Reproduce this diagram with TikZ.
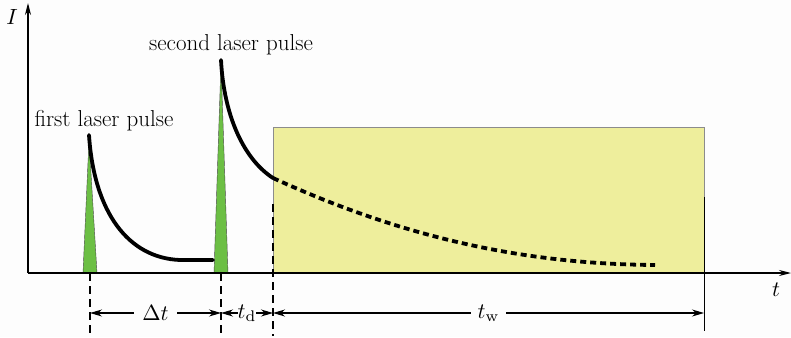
\documentclass[tikz,border=0pt]{standalone}
\usepackage{fontspec}
\usetikzlibrary{arrows.meta}
\definecolor{pulsegreen}{HTML}{6CBF44}
\definecolor{winyellow}{HTML}{EEEE9C}
\definecolor{bggray}{HTML}{FDFDFD}
\tikzset{
  axisline/.style={line width=1.4pt,-{Stealth[length=12pt,width=6pt]}},
  pulsefill/.style={fill=pulsegreen,draw=black!70,line width=0.4pt},
  decayline/.style={line width=3.8pt,line cap=round},
  decaydash/.style={line width=3.8pt,dash pattern=on 6pt off 4pt},
  guideline/.style={line width=1.3pt,dash pattern=on 8pt off 5pt},
  dimarrow/.style={line width=1.1pt,{Stealth[length=12pt,width=7pt]}-{Stealth[length=12pt,width=7pt]}},
  lbl/.style={font=\fontsize{23}{26}\selectfont,inner sep=1pt},
  mathlbl/.style={scale=2.2,inner sep=0.5pt},
  dimlbl/.style={scale=2.2,fill=bggray,inner sep=1pt},
}
\begin{document}
\begin{tikzpicture}[x=1pt,y=-1pt]
\useasboundingbox[fill=bggray] (0,0) rectangle (791,337);
% coordinates
\coordinate (O) at (28,273);
\coordinate (Ytop) at (28,3);
\coordinate (Xend) at (791,273);
% window
\filldraw[fill=winyellow,draw=black!45,line width=0.8pt] (273,127) rectangle (704,273);
% pulses
\filldraw[pulsefill] (83,273) -- (89,140) -- (97,273) -- cycle;
\filldraw[pulsefill] (214,273) -- (221,62) -- (228,273) -- cycle;
% axes
\draw[axisline] (O) -- (Ytop);
\draw[axisline] (O) -- (Xend);
\node[mathlbl] (ilab) at (12,17) {$I$};
\node[mathlbl] (tlab) at (776,290) {$t$};
% decay curves
\coordinate (p1) at (89,135);
\coordinate (p1end) at (213,260);
\coordinate (p2) at (221,60);
\coordinate (p2mid) at (273,178);
\coordinate (p2end) at (655,265);
\draw[decayline] (p1) .. controls (94,212) and (128,258) .. (180,260) -- (p1end);
\draw[decayline] (p2) .. controls (224,118) and (245,160) .. (p2mid);
\draw[decaydash] (p2mid) .. controls (400,236) and (520,264) .. (p2end);
% guide lines
\coordinate (g1t) at (90,273);
\coordinate (g1b) at (90,336);
\coordinate (g2t) at (221,273);
\coordinate (g2b) at (221,336);
\coordinate (g3t) at (273,204);
\coordinate (g3b) at (273,336);
\coordinate (g4t) at (704,197);
\coordinate (g4b) at (704,331);
\draw[guideline] (g1t) -- (g1b);
\draw[guideline] (g2t) -- (g2b);
\draw[guideline] (g3t) -- (g3b);
\draw[line width=0.6pt] (g4t) -- (g4b);
% dimension arrows
\coordinate (d1) at (90,313);
\coordinate (d2) at (221,313);
\coordinate (d3) at (273,313);
\coordinate (d4) at (704,313);
\draw[dimarrow] (d1) -- node[dimlbl,inner xsep=4pt] (dtlab) {$\Delta t$} (d2);
\draw[dimarrow] (d2) -- node[dimlbl,inner sep=0pt] (tdlab) {$t_{\mathrm{d}}$} (d3);
\draw[dimarrow] (d3) -- node[dimlbl,inner xsep=3pt] (twlab) {$t_{\mathrm{w}}$} (d4);
% labels
\node[lbl] (first) at (104,121) {first laser pulse};
\node[lbl] (second) at (231,45) {second laser pulse};
\end{tikzpicture}
\end{document}
